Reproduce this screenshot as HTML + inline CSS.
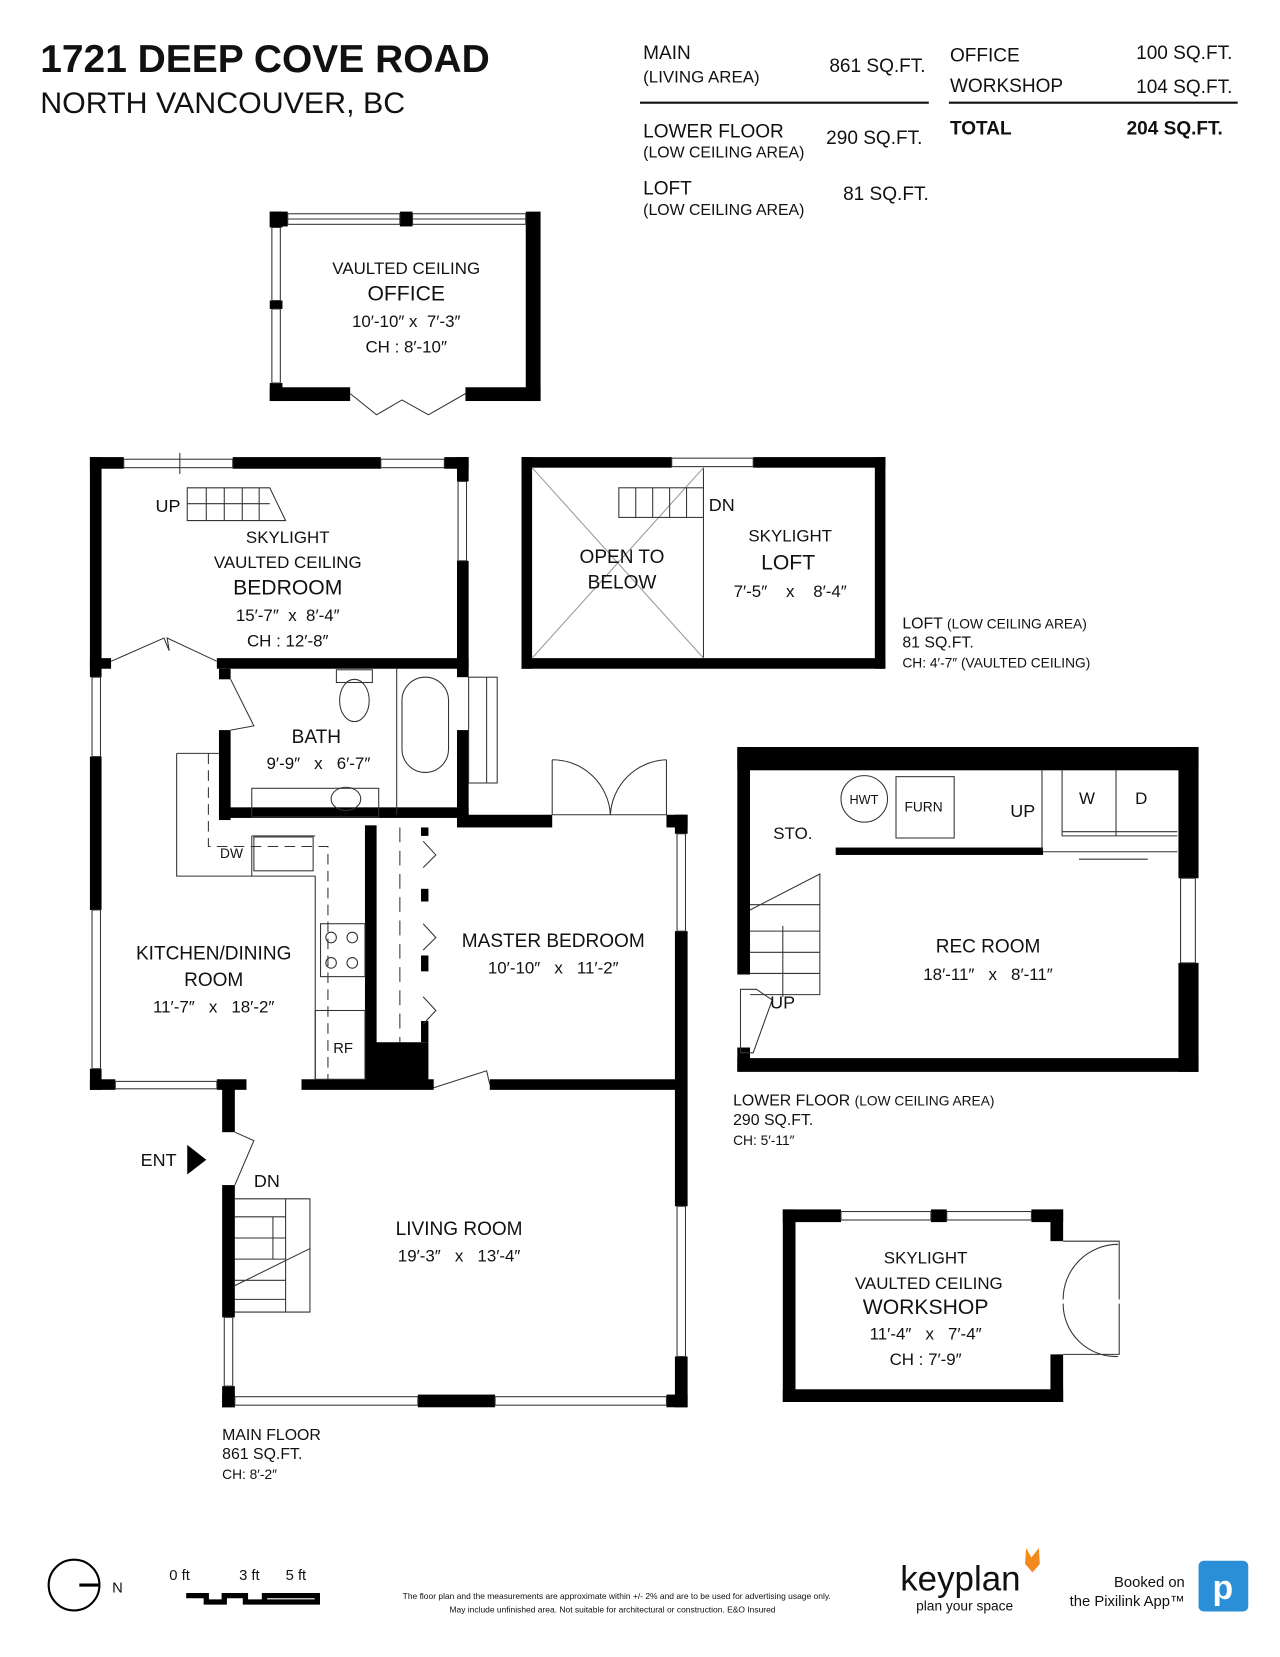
<!DOCTYPE html>
<html><head><meta charset="utf-8"><style>
html,body{margin:0;padding:0;background:#fff}
svg{display:block}
text{font-family:"Liberation Sans",sans-serif;fill:#111;white-space:pre}
</style></head><body>
<svg width="1280" height="1657" viewBox="0 0 1210 1566" preserveAspectRatio="none" xmlns="http://www.w3.org/2000/svg" xml:space="preserve">
<rect width="1210" height="1566" fill="#fff"/>
<text x="38" y="68" font-size="37" font-weight="bold" textLength="425" lengthAdjust="spacingAndGlyphs">1721 DEEP COVE ROAD</text>
<text x="38" y="107" font-size="28" textLength="345" lengthAdjust="spacingAndGlyphs">NORTH VANCOUVER, BC</text>
<g font-size="18">
<text x="608" y="56">MAIN</text><text x="608" y="78" font-size="16">(LIVING AREA)</text>
<text x="784" y="68">861 SQ.FT.</text>
<text x="608" y="130">LOWER FLOOR</text><text x="608" y="149" font-size="15">(LOW CEILING AREA)</text>
<text x="781" y="136">290 SQ.FT.</text>
<text x="608" y="184">LOFT</text><text x="608" y="203" font-size="15">(LOW CEILING AREA)</text>
<text x="797" y="189">81 SQ.FT.</text>
<text x="898" y="58">OFFICE</text><text x="1074" y="56">100 SQ.FT.</text>
<text x="898" y="87">WORKSHOP</text><text x="1074" y="88">104 SQ.FT.</text>
<text x="898" y="127" font-weight="bold">TOTAL</text><text x="1065" y="127" font-weight="bold">204 SQ.FT.</text>
</g>
<line x1="605" y1="97" x2="878" y2="97" stroke="#111" stroke-width="2"/>
<line x1="897" y1="97" x2="1170" y2="97" stroke="#111" stroke-width="2"/>

<g fill="#000">
<rect x="255" y="200" width="17" height="14"/><rect x="378" y="200" width="12" height="14"/><rect x="497" y="200" width="14" height="179"/>
<rect x="255" y="200" width="12" height="15"/><rect x="255" y="284" width="12" height="8"/><rect x="255" y="362" width="12" height="17"/>
<rect x="255" y="366" width="76" height="13"/><rect x="440" y="366" width="71" height="13"/>
<rect x="85" y="432" width="32" height="11"/><rect x="220" y="432" width="140" height="11"/><rect x="420" y="432" width="23" height="11"/>
<rect x="432" y="432" width="11" height="23"/><rect x="432" y="530" width="11" height="110"/>
<rect x="85" y="432" width="11" height="208"/>
<rect x="85" y="622" width="20" height="10"/><rect x="205" y="622" width="238" height="10"/>
<rect x="85" y="715" width="11" height="145"/><rect x="85" y="1010" width="11" height="20"/>
<rect x="85" y="1020" width="24" height="10"/><rect x="205" y="1020" width="28" height="10"/>
<rect x="207" y="632" width="11" height="10"/><rect x="207" y="690" width="11" height="85"/>
<rect x="207" y="763" width="236" height="10"/>
<rect x="432" y="690" width="11" height="90"/>
<rect x="432" y="770" width="90" height="12"/><rect x="630" y="770" width="20" height="12"/>
<rect x="345" y="780" width="11" height="245"/>
<rect x="345" y="985" width="60" height="40"/>
<rect x="398" y="782" width="7" height="8"/><rect x="398" y="840" width="7" height="12"/><rect x="398" y="903" width="7" height="15"/><rect x="398" y="965" width="7" height="20"/>
<rect x="638" y="770" width="12" height="18"/><rect x="638" y="880" width="12" height="260"/><rect x="638" y="1282" width="12" height="48"/>
<rect x="285" y="1020" width="125" height="10"/><rect x="463" y="1020" width="185" height="10"/>
<rect x="210" y="1025" width="12" height="45"/><rect x="210" y="1120" width="12" height="125"/><rect x="210" y="1310" width="12" height="20"/>
<rect x="210" y="1318" width="12" height="12"/><rect x="395" y="1318" width="73" height="12"/><rect x="630" y="1318" width="20" height="12"/>
<rect x="493" y="432" width="142" height="10"/><rect x="712" y="432" width="125" height="10"/>
<rect x="493" y="432" width="10" height="200"/><rect x="827" y="432" width="10" height="200"/><rect x="493" y="622" width="344" height="10"/>
<rect x="697" y="706" width="436" height="22"/><rect x="697" y="706" width="12" height="215"/><rect x="697" y="990" width="12" height="22"/>
<rect x="697" y="1000" width="436" height="13"/>
<rect x="1114" y="706" width="19" height="124"/><rect x="1114" y="910" width="19" height="103"/>
<rect x="790" y="801" width="196" height="7"/>
<rect x="740" y="1143" width="55" height="12"/><rect x="880" y="1143" width="15" height="12"/><rect x="975" y="1143" width="30" height="12"/>
<rect x="740" y="1143" width="12" height="182"/><rect x="740" y="1313" width="265" height="12"/>
<rect x="993" y="1143" width="12" height="30"/><rect x="993" y="1280" width="12" height="45"/>
</g>

<g fill="none" stroke="#333" stroke-width="1">
<rect x="272" y="202" width="106" height="10"/><line x1="272" y1="207" x2="378" y2="207"/>
<rect x="390" y="202" width="107" height="10"/><line x1="390" y1="207" x2="497" y2="207"/>
<rect x="257" y="215" width="8" height="69"/><rect x="257" y="292" width="8" height="70"/>
<path d="M331 372 L356 392 L380 378 L405 392 L440 372"/>
<rect x="117" y="434" width="103" height="8"/><line x1="170" y1="428" x2="170" y2="448"/>
<rect x="360" y="434" width="60" height="8"/><rect x="433" y="455" width="8" height="75"/>
<path d="M105 625 L155 603 L160 615 L158 603 L205 625"/>
<path d="M218 642 L240 686 L218 690"/>
<rect x="87" y="640" width="8" height="75"/><rect x="87" y="860" width="8" height="150"/>
<rect x="109" y="1022" width="96" height="7"/>
<rect x="443" y="640" width="27" height="100"/><line x1="460" y1="640" x2="460" y2="740"/>
<path d="M522 770 V718 M630 770 V718 M522 718 A55 55 0 0 1 577 770 M630 718 A55 55 0 0 0 577 770"/>
<line x1="522" y1="770" x2="630" y2="770"/>
<rect x="640" y="788" width="8" height="92"/><rect x="640" y="1140" width="8" height="142"/>
<path d="M410 1028 L460 1012 L463 1025"/>
<rect x="212" y="1245" width="8" height="65"/><rect x="222" y="1320" width="173" height="8"/><rect x="468" y="1320" width="162" height="8"/>
<path d="M222 1070 L240 1078 L222 1120"/>
<path d="M177 461 H255 L270 492 H177 Z M195 461 V492 M212 461 V492 M229 461 V492 M245 461 V492 M177 476 H255"/>
<rect x="318" y="633" width="34" height="12"/><ellipse cx="335" cy="662" rx="14" ry="20"/>
<rect x="380" y="640" width="44" height="90" rx="22"/>
<rect x="238" y="745" width="120" height="27"/><ellipse cx="327" cy="755" rx="14" ry="11"/>
<line x1="375" y1="632" x2="375" y2="770"/>
<path d="M167 712 H207 M167 712 V828 H298 V1020 M238 790 H298 M238 790 V828"/>
<rect x="240" y="791" width="56" height="32"/>
<path d="M197 712 V800 H310 V1020" stroke-dasharray="10 6"/>
<rect x="303" y="873" width="42" height="50"/>
<circle cx="313" cy="886" r="5"/><circle cx="333" cy="886" r="5"/><circle cx="313" cy="910" r="5"/><circle cx="333" cy="910" r="5"/>
<rect x="298" y="955" width="47" height="65"/>
<line x1="378" y1="782" x2="378" y2="985" stroke-dasharray="14 8"/>
<path d="M400 795 L412 808 L400 820 M400 873 L412 886 L400 898 M400 942 L412 955 L400 968"/>
<path d="M222 1133 H293 V1240 H222 M222 1150 H270 M222 1170 H270 M222 1190 H270 M222 1210 H270 M222 1228 H270 M270 1133 V1240 M222 1215 L293 1180 M258 1150 V1190"/>
<line x1="665" y1="442" x2="665" y2="622"/>
<path d="M503 442 L665 622 M665 442 L503 622" stroke="#999"/>
<rect x="585" y="461" width="80" height="28"/><path d="M601 461 V489 M617 461 V489 M633 461 V489 M649 461 V489"/>
<rect x="635" y="433" width="77" height="8"/>
<circle cx="817" cy="755" r="22"/><rect x="847" y="734" width="55" height="58"/>
<path d="M985 728 V804 M1004 728 V790 H1113 M1055 728 V790 M1004 786 H1113 M986 805 H1113 M1020 812 H1085"/>
<rect x="1116" y="830" width="14" height="80"/>
<path d="M709 860 L775 826 V940 H709 M709 880 H775 M709 900 H775 M709 920 H775 M709 855 H775 M740 875 V942"/>
<path d="M700 935 H715 L730 945 L712 995 H700 Z"/>
<rect x="795" y="1145" width="85" height="8"/><rect x="895" y="1145" width="80" height="8"/>
<path d="M1005 1173 H1058 V1228 M1005 1280 H1058 V1232 M1005 1228 A52 52 0 0 1 1057 1176 M1005 1232 A50 50 0 0 0 1057 1282"/>
</g>

<g text-anchor="middle" font-size="18">
<text x="384" y="259" font-size="16">VAULTED CEILING</text>
<text x="384" y="284" font-size="20">OFFICE</text>
<text x="384" y="309" font-size="16">10′-10″ x  7′-3″</text>
<text x="384" y="333" font-size="16">CH : 8′-10″</text>
<text x="272" y="513" font-size="16">SKYLIGHT</text>
<text x="272" y="537" font-size="16">VAULTED CEILING</text>
<text x="272" y="562" font-size="20">BEDROOM</text>
<text x="272" y="587" font-size="16">15′-7″  x  8′-4″</text>
<text x="272" y="611" font-size="16">CH : 12′-8″</text>
<text x="299" y="702">BATH</text>
<text x="301" y="727" font-size="16">9′-9″   x   6′-7″</text>
<text x="202" y="907">KITCHEN/DINING</text>
<text x="202" y="932">ROOM</text>
<text x="202" y="957" font-size="16">11′-7″   x   18′-2″</text>
<text x="523" y="895">MASTER BEDROOM</text>
<text x="523" y="920" font-size="16">10′-10″   x   11′-2″</text>
<text x="434" y="1167">LIVING ROOM</text>
<text x="434" y="1192" font-size="16">19′-3″   x   13′-4″</text>
<text x="588" y="532">OPEN TO</text>
<text x="588" y="556">BELOW</text>
<text x="747" y="512" font-size="16">SKYLIGHT</text>
<text x="745" y="538" font-size="20">LOFT</text>
<text x="747" y="564" font-size="16">7′-5″    x    8′-4″</text>
<text x="934" y="900">REC ROOM</text>
<text x="934" y="926" font-size="16">18′-11″   x   8′-11″</text>
<text x="875" y="1194" font-size="16">SKYLIGHT</text>
<text x="878" y="1218" font-size="16">VAULTED CEILING</text>
<text x="875" y="1242" font-size="20">WORKSHOP</text>
<text x="875" y="1266" font-size="16">11′-4″   x   7′-4″</text>
<text x="875" y="1290" font-size="16">CH : 7′-9″</text>
</g>
<g font-size="17">
<text x="147" y="484" fill="#444">UP</text>
<text x="670" y="483" fill="#444">DN</text>
<text x="240" y="1122" fill="#444">DN</text>
<text x="731" y="793" font-size="16">STO.</text>
<text x="955" y="772" fill="#444">UP</text>
<text x="728" y="953" fill="#444">UP</text>
<text x="133" y="1102">ENT</text>
<text x="803" y="760" font-size="12">HWT</text>
<text x="855" y="767" font-size="13">FURN</text>
<text x="1020" y="760" font-size="16">W</text>
<text x="1073" y="760" font-size="16">D</text>
<text x="208" y="811" font-size="13" fill="#444">DW</text>
<text x="315" y="995" font-size="14" fill="#444">RF</text>
</g>
<path d="M177 1082 L195 1096 L177 1110 Z" fill="#000"/>
<g font-size="15">
<text x="853" y="594">LOFT <tspan font-size="13">(LOW CEILING AREA)</tspan></text>
<text x="853" y="612">81 SQ.FT.</text>
<text x="853" y="631" font-size="13">CH: 4′-7″ (VAULTED CEILING)</text>
<text x="693" y="1045">LOWER FLOOR <tspan font-size="13">(LOW CEILING AREA)</tspan></text>
<text x="693" y="1063">290 SQ.FT.</text>
<text x="693" y="1082" font-size="13">CH: 5′-11″</text>
<text x="210" y="1361">MAIN FLOOR</text>
<text x="210" y="1379">861 SQ.FT.</text>
<text x="210" y="1398" font-size="13">CH: 8′-2″</text>
</g>
<circle cx="70" cy="1498" r="24" fill="none" stroke="#000" stroke-width="2"/>
<line x1="75" y1="1498" x2="94" y2="1498" stroke="#000" stroke-width="3"/>
<text x="106" y="1505" font-size="14">N</text>
<text x="160" y="1493" font-size="14">0 ft</text><text x="226" y="1493" font-size="14">3 ft</text><text x="270" y="1493" font-size="14">5 ft</text>
<path d="M176 1508 H195 V1514 H212 V1508 H232 V1514 H250 V1508 H300 V1514 H250 V1508" stroke="#000" stroke-width="5" fill="none"/>
<text x="583" y="1511" font-size="8" text-anchor="middle" fill="#333">The floor plan and the measurements are approximate within +/- 2% and are to be used for advertising usage only.</text>
<text x="579" y="1524" font-size="8" text-anchor="middle" fill="#333">May include unfinished area. Not suitable for architectural or construction. E&amp;O Insured</text>
<text x="851" y="1503" font-size="33" fill="#555">keyplan</text>
<path d="M970 1463 L975 1472 L982 1463 L983 1478 L976 1486 L969 1478 Z" fill="#f28a1e"/>
<text x="866" y="1522" font-size="13" fill="#888">plan your space</text>
<text x="1120" y="1500" font-size="14" text-anchor="end">Booked on</text>
<text x="1120" y="1518" font-size="14" text-anchor="end">the Pixilink App™</text>
<rect x="1133" y="1475" width="47" height="48" rx="5" fill="#2a8fd6"/>
<text x="1156" y="1511" font-size="32" font-weight="bold" text-anchor="middle" style="fill:#fff">p</text>
</svg>
</body></html>
